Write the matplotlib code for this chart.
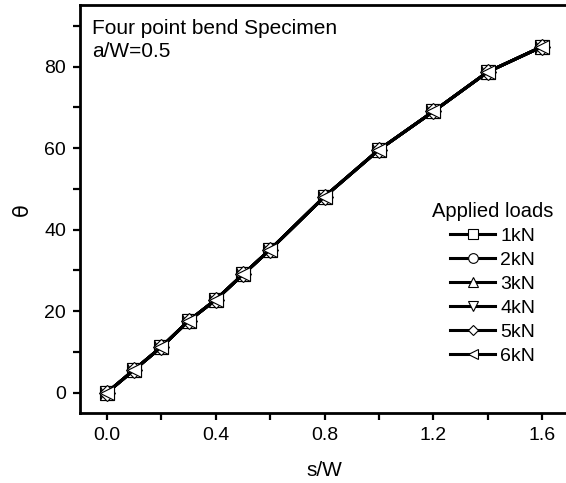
#Rotation angle vs normalised distance for the four point bend specimen
import matplotlib.pyplot as plt
from matplotlib.ticker import MultipleLocator
plt.rcParams['font.family'] = ['Liberation Sans', 'DejaVu Sans']
#Data
sw = [0.0, 0.1, 0.2, 0.3, 0.4, 0.5, 0.6, 0.8, 1.0, 1.2, 1.4, 1.6]
theta_1kN = [0.0, 5.6, 11.2, 17.6, 22.8, 29.0, 35.1, 48.1, 59.6, 69.0, 78.7, 84.9]
theta_2kN = [0.0, 5.6, 11.2, 17.6, 22.8, 29.0, 35.1, 48.1, 59.6, 69.0, 78.7, 84.9]
theta_3kN = [0.0, 5.6, 11.2, 17.6, 22.8, 29.0, 35.1, 48.1, 59.6, 69.0, 78.7, 84.9]
theta_4kN = [0.0, 5.6, 11.2, 17.6, 22.8, 29.0, 35.1, 48.1, 59.6, 69.0, 78.7, 84.9]
theta_5kN = [0.0, 5.6, 11.2, 17.6, 22.8, 29.0, 35.1, 48.1, 59.6, 69.0, 78.7, 84.9]
theta_6kN = [0.0, 5.6, 11.2, 17.6, 22.8, 29.0, 35.1, 48.1, 59.6, 69.0, 78.7, 84.9]
loads = ['1kN', '2kN', '3kN', '4kN', '5kN', '6kN']
series = [theta_1kN, theta_2kN, theta_3kN, theta_4kN, theta_5kN, theta_6kN]
markers = ['s', 'o', '^', 'v', 'D', '<']

fig = plt.figure(figsize=(5.66, 4.83), dpi=100)
ax = fig.add_axes([0.141, 0.145, 0.865, 0.8437])  # right spine falls just outside the picture
for y, lab, m in zip(series, loads, markers):
    ms = 8 if m == 'D' else 10
    ax.plot(sw, y, color='black', lw=2.2, marker=m, markersize=ms,
            markerfacecolor='white', markeredgecolor='black', markeredgewidth=0.8, label=lab)

ax.set_xlim(-0.1, 1.7)
ax.set_ylim(-5, 95)
ax.set_xticks([0.0, 0.4, 0.8, 1.2, 1.6])
ax.set_xticklabels(['0.0', '0.4', '0.8', '1.2', '1.6'])
ax.xaxis.set_minor_locator(MultipleLocator(0.2))
ax.yaxis.set_major_locator(MultipleLocator(20))
ax.yaxis.set_minor_locator(MultipleLocator(10))
ax.tick_params(which='major', direction='out', length=5, width=1.6, labelsize=14, pad=5)
ax.tick_params(which='minor', direction='out', length=5, width=1.6)
for sp in ['left', 'bottom', 'top']:
    ax.spines[sp].set_linewidth(2)
ax.spines['right'].set_visible(False)
ax.set_xlabel('s/W', fontsize=15, labelpad=12)
ax.set_ylabel('θ', fontsize=15, labelpad=9, family=['DejaVu Sans'])

ax.text(0.0245, 0.967, 'Four point bend Specimen\na/W=0.5', transform=ax.transAxes,
        fontsize=15, va='top', ha='left', linespacing=1.3)

leg = ax.legend(title='Applied loads', loc='upper left', bbox_to_anchor=(432/566, 1-202/483),
                bbox_transform=fig.transFigure, frameon=False, fontsize=14, title_fontsize=14.5,
                markerscale=0.7, handlelength=2.3, handletextpad=0.26, labelspacing=0.33,
                borderpad=0, borderaxespad=0)
fig.savefig('out.png', dpi=100)
